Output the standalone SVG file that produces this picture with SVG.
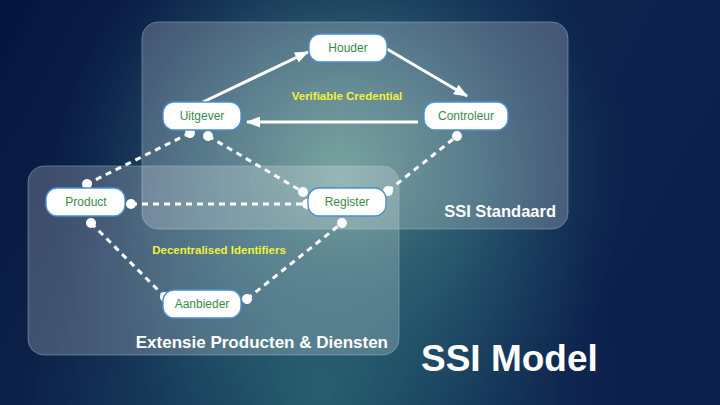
<svg xmlns="http://www.w3.org/2000/svg" width="720" height="405" viewBox="0 0 720 405">
<defs>
  <linearGradient id="bg" x1="0" y1="0" x2="1" y2="0.3">
    <stop offset="0" stop-color="#06153f"/>
    <stop offset="0.5" stop-color="#10294f"/>
    <stop offset="1" stop-color="#0c204c"/>
  </linearGradient>
  <radialGradient id="glow1" cx="340" cy="180" r="290" gradientUnits="userSpaceOnUse">
    <stop offset="0" stop-color="#6aa390" stop-opacity="0.95"/>
    <stop offset="0.5" stop-color="#3a7480" stop-opacity="0.6"/>
    <stop offset="1" stop-color="#1c4a66" stop-opacity="0"/>
  </radialGradient>
  <radialGradient id="glow2" cx="320" cy="390" r="300" gradientUnits="userSpaceOnUse">
    <stop offset="0" stop-color="#2a6672" stop-opacity="0.85"/>
    <stop offset="1" stop-color="#1c4a66" stop-opacity="0"/>
  </radialGradient>
  <marker id="arrow" markerWidth="14" markerHeight="11" refX="13" refY="5.5" orient="auto" markerUnits="userSpaceOnUse">
    <path d="M0,0 L14,5.5 L0,11 Z" fill="#ffffff"/>
  </marker>
  <marker id="dot" markerWidth="12" markerHeight="12" refX="6" refY="6" orient="auto" markerUnits="userSpaceOnUse">
    <circle cx="6" cy="6" r="5" fill="#ffffff"/>
  </marker>
</defs>
<style>
  .panel { fill: #ffffff; fill-opacity: 0.22; stroke: #9fbfd8; stroke-opacity: 0.45; stroke-width: 1; }
  .node rect { fill: #ffffff; stroke: #4a8fd0; stroke-width: 1.3; }
  .node text { font-family: "Liberation Sans", Arial, sans-serif; font-size: 12px; fill: #3b8a4a; text-anchor: middle; }
  .arrow { stroke: #ffffff; stroke-width: 3; fill: none; marker-end: url(#arrow); }
  .dash { stroke: #ffffff; stroke-width: 3; fill: none; stroke-dasharray: 6 5; marker-start: url(#dot); marker-end: url(#dot); }
  .lbl { font-family: "Liberation Sans", Arial, sans-serif; font-weight: bold; font-size: 11.5px; fill: #f2f23a; text-anchor: middle; }
  .title { font-family: "Liberation Sans", Arial, sans-serif; font-weight: bold; fill: #ffffff; }
</style>
<rect x="0" y="0" width="720" height="405" fill="url(#bg)"/>
<rect x="0" y="0" width="720" height="405" fill="url(#glow1)"/>
<rect x="0" y="0" width="720" height="405" fill="url(#glow2)"/>

<g id="panel-ssi-standaard">
  <rect class="panel" x="142" y="22" width="426" height="207" rx="16"/>
  <text class="title" x="556" y="217" font-size="16.5" text-anchor="end">SSI Standaard</text>
</g>
<g id="panel-extensie">
  <rect class="panel" x="28" y="166" width="371" height="189" rx="16"/>
  <text class="title" x="388" y="348" font-size="17" text-anchor="end">Extensie Producten &amp; Diensten</text>
</g>

<g id="connectors">
  <line class="arrow" x1="203" y1="102" x2="308" y2="52"/>
  <line class="arrow" x1="387" y1="49" x2="467" y2="96"/>
  <line class="arrow" x1="418" y1="122" x2="247" y2="122"/>
  <line class="dash" x1="190" y1="133" x2="87" y2="184"/>
  <line class="dash" x1="208" y1="136" x2="303" y2="192"/>
  <line class="dash" x1="131" y1="204" x2="307" y2="204"/>
  <line class="dash" x1="91" y1="223" x2="165" y2="297"/>
  <line class="dash" x1="247" y1="299" x2="342" y2="223"/>
  <line class="dash" x1="388" y1="191" x2="457" y2="136"/>
  <text class="lbl" x="347" y="100">Verifiable Credential</text>
  <text class="lbl" x="219" y="254">Decentralised Identifiers</text>
</g>

<g id="node-houder" class="node">
  <rect x="309" y="34" width="78" height="28" rx="11"/>
  <text x="348" y="52">Houder</text>
</g>
<g id="node-uitgever" class="node">
  <rect x="163" y="102" width="78" height="28" rx="11"/>
  <text x="202" y="120">Uitgever</text>
</g>
<g id="node-controleur" class="node">
  <rect x="424" y="102" width="84" height="28" rx="11"/>
  <text x="466" y="120">Controleur</text>
</g>
<g id="node-product" class="node">
  <rect x="46" y="188" width="79" height="28" rx="11"/>
  <text x="86" y="206">Product</text>
</g>
<g id="node-register" class="node">
  <rect x="308" y="188" width="78" height="28" rx="11"/>
  <text x="347" y="206">Register</text>
</g>
<g id="node-aanbieder" class="node">
  <rect x="163" y="290" width="78" height="28" rx="11"/>
  <text x="202" y="308">Aanbieder</text>
</g>

<text class="title" x="421" y="371" font-size="37">SSI Model</text>
</svg>
